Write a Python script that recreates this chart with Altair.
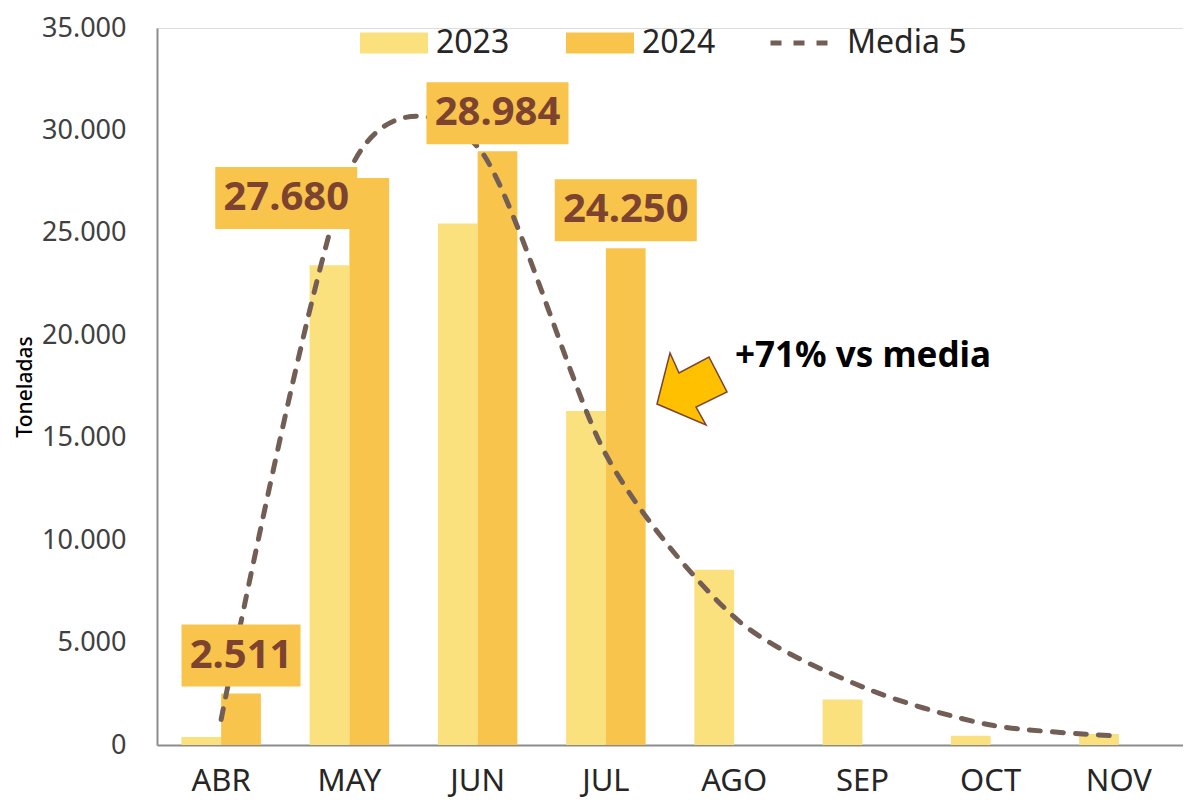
import altair as alt
import pandas as pd

# ---- data ----
months = ["ABR", "MAY", "JUN", "JUL", "AGO", "SEP", "OCT", "NOV"]
v2023 = [390, 23420, 25460, 16310, 8555, 2225, 450, 535]
v2024 = [2511, 27680, 28984, 24250]          # ABR..JUL
media5 = [1250, 28000, 29200, 14180, 6250, 2840, 975, 440]
bar_series = ["2023", "2024"]
line_name = "Media 5"
annotation = "+71% vs media"
y_ticks = [0, 5000, 10000, 15000, 20000, 25000, 30000, 35000]

FONT = "Noto Sans"
C23, C24, CLINE = "#FAE17E", "#F9C44B", "#735E55"
LABEL_TXT = "#7B4330"

bars = pd.DataFrame(
    [{"month": m, "series": "2023", "value": v} for m, v in zip(months, v2023)]
    + [{"month": m, "series": "2024", "value": v} for m, v in zip(months, v2024)]
)
line_df = pd.DataFrame({"month": months, "series": line_name, "value": media5})
labels = pd.DataFrame({"month": months[:len(v2024)], "series": "2024", "value": v2024})
note_df = pd.DataFrame({"text": [annotation]})

x_enc = alt.X("month:N", sort=months,
              scale=alt.Scale(paddingInner=0.38, paddingOuter=0.19),
              axis=alt.Axis(title=None, labelAngle=0, labelFontSize=31, labelFont=FONT,
                            labelColor="#262626", labelPadding=45, labelBaseline="alphabetic",
                            ticks=False, domainColor="#8C8C8C", domainWidth=2))
y_enc = alt.Y("value:Q", scale=alt.Scale(domain=[0, 35000], nice=False),
              axis=alt.Axis(title="Toneladas", values=y_ticks, grid=False, ticks=False,
                            labelExpr="replace(format(datum.value, ','), ',', '.')",
                            labelFontSize=27, labelFont=FONT, labelColor="#404040",
                            labelPadding=31, domainColor="#8C8C8C", domainWidth=2,
                            titleFontSize=21, titleFont=FONT, titleFontWeight=500,
                            titleColor="#000000", titlePadding=6))
xoff = alt.XOffset("series:N", scale=alt.Scale(domain=bar_series, paddingInner=0, paddingOuter=0))

bar_path = "M-1,-0.309L1,-0.309L1,0.309L-1,0.309Z"

bar_layer = alt.Chart(bars).mark_bar(opacity=1).encode(
    x=x_enc, y=y_enc, xOffset=xoff,
    color=alt.Color("series:N", scale=alt.Scale(domain=bar_series, range=[C23, C24]),
                    legend=alt.Legend(title=None, orient="none", legendX=203, legendY=-19,
                                      direction="horizontal", labelFontSize=32, labelFont=FONT,
                                      labelColor="#262626", labelOffset=8, symbolSize=4624,
                                      symbolType=bar_path, symbolStrokeWidth=0,
                                      symbolOpacity=1, columnPadding=56)),
)

line_layer = alt.Chart(line_df).mark_line(
    interpolate="cardinal", tension=0.2, strokeWidth=5, strokeCap="round", color=CLINE
).encode(
    x=alt.X("month:N", sort=months), y="value:Q",
    strokeDash=alt.StrokeDash("series:N",
                              scale=alt.Scale(domain=[line_name], range=[[11, 12]]),
                              legend=alt.Legend(title=None, orient="none", legendX=611,
                                                legendY=-19, labelFontSize=32, labelFont=FONT,
                                                labelColor="#262626", labelOffset=11,
                                                symbolType="M-1,0L1,0", symbolSize=3969,
                                                symbolStrokeWidth=5, symbolDash=[11, 12],
                                                symbolFillColor="transparent",
                                                symbolStrokeColor=CLINE, symbolOpacity=1)),
)

# label-box shapes (one per labelled month: ABR box is narrower, MAY box sits left of its bar)
box_paths = [
    "M-0.838,-0.972L0.838,-0.972L0.838,-0.099L-0.838,-0.099Z",
    "M-2.169,-0.155L-0.169,-0.155L-0.169,0.718L-2.169,0.718Z",
    "M-1,-0.972L1,-0.972L1,-0.099L-1,-0.099Z",
    "M-1,-0.972L1,-0.972L1,-0.099L-1,-0.099Z",
]

lab_base = alt.Chart(labels).transform_calculate(
    txt="replace(format(datum.value, ','), ',', '.')"
)
std_lab = lab_base.transform_filter("datum.month !== 'MAY'")
may_lab = lab_base.transform_filter("datum.month === 'MAY'")

pos = dict(x=alt.X("month:N", sort=months), xOffset=xoff, y="value:Q")

boxes = lab_base.mark_point(size=20164, filled=True, fill=C24,
                            opacity=1, strokeWidth=0).encode(
    shape=alt.Shape("month:N", scale=alt.Scale(domain=months[:len(v2024)], range=box_paths),
                    legend=None),
    **pos)
txt1 = std_lab.mark_text(font=FONT, fontSize=40, fontWeight="bold", color=LABEL_TXT,
                         baseline="middle", dy=-38).encode(text="txt:N", **pos)
txt2 = may_lab.mark_text(font=FONT, fontSize=40, fontWeight="bold", color=LABEL_TXT,
                         baseline="middle", dx=-83, dy=20).encode(text="txt:N", **pos)

arrow_path = ("M-0.70,0.30L-0.44,-0.72L-0.26,-0.32L0.34,-0.64L0.70,0.06"
              "L0.08,0.36L0.28,0.72Z")
arrow = alt.Chart(note_df).mark_point(
    shape=arrow_path, size=10000, filled=True, fill="#FFC000", opacity=1,
    stroke="#7B4330", strokeWidth=1.5
).encode(x=alt.value(535), y=alt.value(361))

note = alt.Chart(note_df).mark_text(
    font=FONT, fontSize=35, fontWeight="bold", color="#000000", align="left", baseline="middle"
).encode(x=alt.value(578), y=alt.value(328), text="text:N")

chart = alt.layer(bar_layer, line_layer, boxes, txt1, txt2, arrow, note).resolve_legend(
    color="independent", strokeDash="independent"
).properties(
    width=1026, height=717,
    autosize=alt.AutoSizeParams(type="none"),
    padding={"left": 149, "top": 20, "right": 0, "bottom": 54},
).configure_view(stroke=None).configure(background="white")

chart.save("out.html", embed_options={"renderer": "svg", "actions": False})
